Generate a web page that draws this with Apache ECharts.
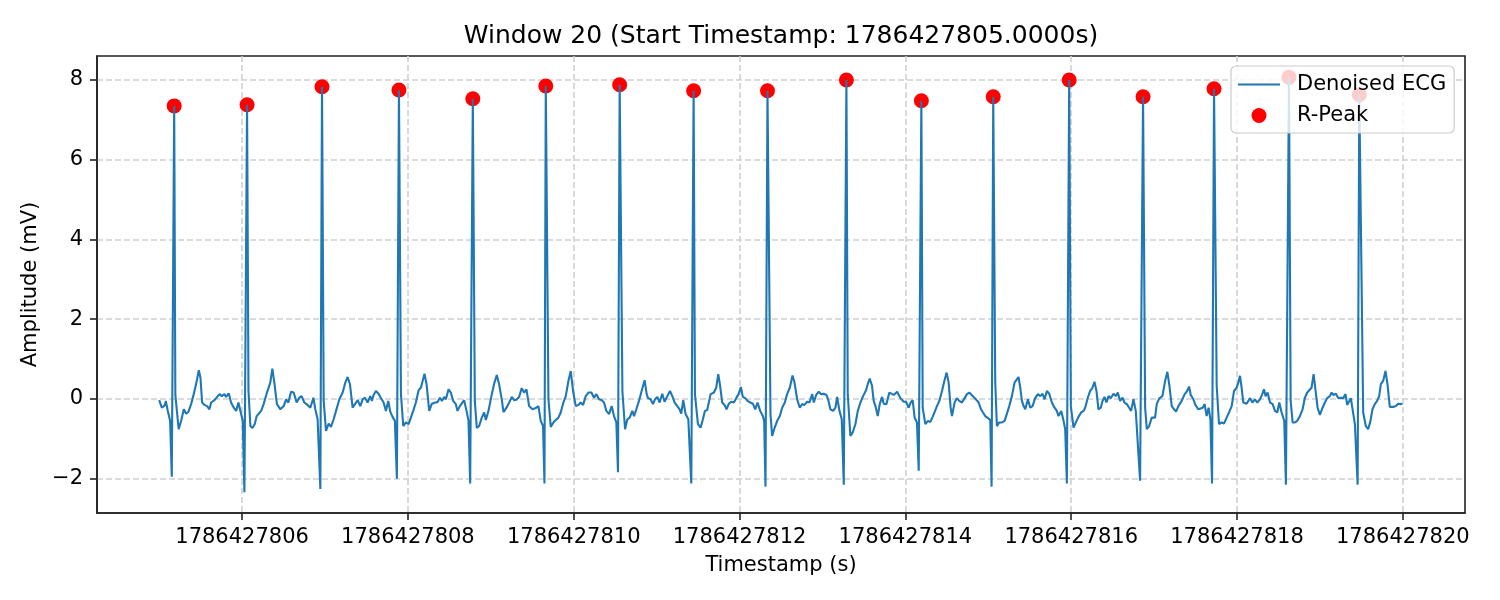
<!DOCTYPE html>
<html>
<head>
<meta charset="utf-8">
<script src="https://cdn.jsdelivr.net/npm/echarts@6/dist/echarts.min.js"></script>
<style>
html,body{margin:0;padding:0;background:#fff;}
#chart{width:1500px;height:600px;}
</style>
</head>
<body>
<div id="chart"></div>
<script>
// Start of the window (absolute timestamp, seconds)
const startTimestamp = 1786427805;
const chartTitle = 'Window 20 (Start Timestamp: 1786427805.0000s)';

// Denoised ECG samples: [seconds after start, amplitude mV]
const ecgSamples = [
[0.000,-0.03],[0.032,-0.22],[0.064,-0.17],[0.080,-0.05],[0.104,-0.30],[0.132,-0.55],[0.152,-1.95],[0.181,7.35],[0.195,0.10],[0.235,-0.76],
[0.265,-0.55],[0.297,-0.26],[0.325,-0.37],[0.353,-0.32],[0.385,-0.13],[0.417,0.12],[0.453,0.45],[0.478,0.72],[0.498,0.53],[0.518,-0.09],
[0.546,-0.15],[0.578,-0.18],[0.606,-0.26],[0.627,-0.09],[0.667,-0.03],[0.699,0.05],[0.727,0.12],[0.755,0.07],[0.787,0.12],[0.807,0.05],
[0.839,0.14],[0.867,-0.09],[0.900,-0.22],[0.928,-0.30],[0.956,-0.09],[0.980,-0.30],[1.008,-0.55],[1.028,-2.34],[1.060,7.38],[1.077,0.20],
[1.100,-0.68],[1.125,-0.73],[1.153,-0.63],[1.176,-0.43],[1.200,-0.38],[1.230,-0.30],[1.260,-0.13],[1.300,0.16],[1.340,0.41],[1.365,0.76],
[1.389,0.41],[1.420,-0.13],[1.462,-0.26],[1.502,-0.18],[1.530,-0.01],[1.558,-0.09],[1.590,0.18],[1.622,0.16],[1.658,-0.09],[1.690,0.03],
[1.718,0.07],[1.750,-0.09],[1.790,-0.15],[1.823,-0.22],[1.860,0.03],[1.883,-0.26],[1.911,-0.51],[1.944,-2.26],[1.964,7.83],[1.984,-0.05],
[2.012,-0.80],[2.044,-0.62],[2.072,-0.70],[2.104,-0.51],[2.133,-0.30],[2.173,-0.01],[2.213,0.16],[2.245,0.41],[2.273,0.55],[2.301,0.37],
[2.333,-0.22],[2.361,-0.13],[2.394,-0.03],[2.426,-0.18],[2.454,-0.01],[2.482,0.03],[2.514,-0.09],[2.546,0.07],[2.566,-0.05],[2.586,0.10],
[2.614,0.20],[2.646,0.13],[2.675,0.02],[2.707,-0.09],[2.735,-0.30],[2.763,-0.05],[2.787,-0.32],[2.815,-0.45],[2.843,-0.55],[2.867,-2.00],
[2.892,7.75],[2.916,0.12],[2.944,-0.68],[2.976,-0.59],[3.008,-0.63],[3.036,-0.47],[3.064,-0.30],[3.096,-0.09],[3.129,0.22],[3.157,0.28],
[3.177,0.30],[3.200,0.63],[3.225,0.37],[3.257,-0.30],[3.289,-0.12],[3.330,-0.09],[3.357,-0.08],[3.386,0.03],[3.410,-0.05],[3.438,0.05],
[3.458,-0.01],[3.490,0.24],[3.518,0.16],[3.546,-0.05],[3.578,-0.13],[3.598,-0.30],[3.627,-0.18],[3.650,-0.22],[3.678,-0.03],[3.707,-0.30],
[3.731,-0.55],[3.751,-2.12],[3.783,7.53],[3.807,-0.05],[3.831,-0.73],[3.859,-0.68],[3.891,-0.47],[3.920,-0.34],[3.940,-0.53],[3.972,-0.30],
[4.012,0.12],[4.044,0.41],[4.072,0.60],[4.100,0.37],[4.132,-0.01],[4.153,-0.33],[4.189,-0.22],[4.221,-0.09],[4.253,0.05],[4.281,-0.03],
[4.309,-0.02],[4.341,0.05],[4.373,0.27],[4.402,0.16],[4.430,0.24],[4.462,-0.18],[4.502,-0.26],[4.542,-0.23],[4.574,-0.18],[4.602,-0.55],
[4.630,-0.68],[4.647,-2.12],[4.663,7.85],[4.695,-0.01],[4.723,-0.70],[4.755,-0.59],[4.783,-0.53],[4.815,-0.47],[4.843,-0.34],[4.875,-0.09],
[4.904,0.07],[4.936,0.45],[4.964,0.70],[4.992,0.20],[5.024,-0.18],[5.056,-0.15],[5.084,-0.09],[5.113,-0.15],[5.145,0.07],[5.177,0.16],
[5.213,0.16],[5.245,0.03],[5.273,0.12],[5.305,-0.01],[5.337,-0.03],[5.365,-0.09],[5.394,-0.30],[5.426,-0.38],[5.458,-0.18],[5.486,-0.43],
[5.514,-0.59],[5.534,-1.84],[5.554,7.88],[5.587,0.20],[5.619,-0.76],[5.647,-0.51],[5.675,-0.47],[5.707,-0.30],[5.727,-0.43],[5.755,-0.26],
[5.787,-0.05],[5.819,0.20],[5.855,0.47],[5.880,0.12],[5.896,0.02],[5.928,-0.01],[5.956,-0.13],[5.980,-0.01],[6.008,0.05],[6.036,-0.09],
[6.068,0.13],[6.096,-0.07],[6.129,0.07],[6.161,0.20],[6.189,0.07],[6.217,-0.09],[6.249,-0.18],[6.277,-0.26],[6.297,-0.37],[6.321,-0.03],
[6.349,-0.38],[6.382,-0.51],[6.418,-2.12],[6.446,7.73],[6.462,0.12],[6.498,-0.63],[6.530,-0.72],[6.558,-0.51],[6.582,-0.30],[6.610,-0.28],
[6.630,-0.30],[6.651,0.12],[6.691,0.16],[6.719,0.28],[6.743,0.62],[6.763,0.37],[6.791,-0.09],[6.819,-0.15],[6.843,-0.26],[6.871,-0.12],
[6.899,-0.07],[6.931,-0.09],[6.960,0.02],[6.988,0.12],[7.016,0.30],[7.040,0.05],[7.068,0.02],[7.096,-0.05],[7.129,-0.09],[7.161,-0.12],
[7.189,-0.26],[7.217,-0.09],[7.249,-0.30],[7.281,-0.43],[7.297,-0.55],[7.313,-2.20],[7.337,7.73],[7.373,-0.38],[7.393,-0.93],[7.422,-0.73],
[7.454,-0.55],[7.486,-0.43],[7.514,-0.22],[7.546,-0.09],[7.574,0.12],[7.606,0.28],[7.639,0.59],[7.663,0.41],[7.695,-0.01],[7.727,-0.22],
[7.755,-0.13],[7.783,-0.15],[7.815,-0.07],[7.843,-0.09],[7.876,0.12],[7.896,-0.09],[7.924,0.10],[7.956,0.18],[7.984,0.12],[8.016,0.13],
[8.048,0.10],[8.068,-0.01],[8.096,-0.26],[8.129,-0.30],[8.157,-0.22],[8.177,0.05],[8.205,-0.30],[8.233,-0.51],[8.257,-2.15],[8.289,8.00],
[8.305,0.12],[8.337,-0.93],[8.365,-0.84],[8.398,-0.63],[8.426,-0.30],[8.458,-0.09],[8.490,0.07],[8.526,0.22],[8.546,0.37],[8.570,0.51],
[8.598,0.33],[8.618,-0.05],[8.639,-0.18],[8.667,-0.43],[8.691,-0.13],[8.719,0.05],[8.739,-0.12],[8.771,-0.13],[8.807,0.16],[8.831,0.20],
[8.860,0.10],[8.900,0.18],[8.940,0.02],[8.980,-0.07],[9.008,-0.07],[9.040,-0.22],[9.064,-0.09],[9.088,-0.03],[9.112,-0.47],[9.140,-0.59],
[9.161,-1.80],[9.193,7.48],[9.209,-0.22],[9.241,-0.63],[9.273,-0.55],[9.300,-0.58],[9.329,-0.45],[9.353,-0.43],[9.381,-0.18],[9.410,-0.05],
[9.442,0.20],[9.470,0.45],[9.498,0.66],[9.522,0.41],[9.546,-0.22],[9.562,-0.43],[9.594,-0.09],[9.622,0.02],[9.650,-0.05],[9.683,-0.09],
[9.715,0.02],[9.743,0.12],[9.771,0.16],[9.795,0.18],[9.823,0.05],[9.851,-0.01],[9.884,-0.09],[9.912,-0.26],[9.936,-0.34],[9.964,-0.43],
[9.996,-0.48],[10.024,-0.53],[10.040,-2.20],[10.060,7.58],[10.084,0.41],[10.104,-0.68],[10.133,-0.59],[10.165,-0.59],[10.197,-0.55],[10.225,-0.37],
[10.253,-0.18],[10.285,0.07],[10.317,0.41],[10.345,0.49],[10.365,0.55],[10.386,0.28],[10.406,-0.05],[10.426,-0.18],[10.446,-0.26],[10.478,-0.01],
[10.506,-0.22],[10.534,-0.18],[10.566,0.02],[10.598,0.12],[10.627,0.07],[10.655,0.13],[10.679,-0.01],[10.707,0.20],[10.735,0.13],[10.767,-0.09],
[10.799,-0.22],[10.827,-0.30],[10.847,-0.43],[10.880,-0.30],[10.908,-0.55],[10.928,-0.76],[10.948,-2.12],[10.976,8.00],[10.996,-0.18],[11.028,-0.72],
[11.056,-0.59],[11.088,-0.45],[11.120,-0.34],[11.149,-0.30],[11.169,-0.22],[11.200,0.03],[11.229,0.20],[11.257,0.28],[11.281,0.43],[11.305,0.20],
[11.329,-0.26],[11.357,-0.22],[11.378,-0.05],[11.402,0.05],[11.426,-0.09],[11.450,0.07],[11.478,0.02],[11.510,0.13],[11.538,0.07],[11.562,0.16],
[11.590,-0.05],[11.619,0.03],[11.643,-0.09],[11.671,-0.13],[11.699,-0.22],[11.723,-0.30],[11.751,-0.01],[11.779,-0.30],[11.803,-0.32],[11.831,-2.05],
[11.867,7.58],[11.892,-0.22],[11.912,-0.76],[11.940,-0.68],[11.972,-0.47],[12.012,-0.47],[12.032,-0.13],[12.060,0.01],[12.100,0.07],[12.133,0.45],
[12.160,0.68],[12.185,0.33],[12.213,-0.18],[12.241,-0.26],[12.265,-0.32],[12.293,-0.18],[12.333,-0.05],[12.369,0.12],[12.393,0.18],[12.422,0.31],
[12.442,0.10],[12.474,-0.01],[12.498,-0.15],[12.534,-0.26],[12.586,-0.22],[12.610,-0.13],[12.634,-0.43],[12.658,-0.22],[12.679,-0.51],[12.699,-2.12],
[12.723,7.78],[12.755,0.33],[12.783,-0.63],[12.815,-0.59],[12.843,-0.62],[12.875,-0.47],[12.908,-0.32],[12.936,-0.18],[12.964,0.20],[12.996,0.28],
[13.016,0.41],[13.036,0.58],[13.056,0.28],[13.076,-0.09],[13.116,-0.12],[13.157,0.02],[13.185,-0.09],[13.217,-0.01],[13.245,-0.09],[13.277,-0.01],
[13.305,0.12],[13.325,0.24],[13.345,0.07],[13.369,0.16],[13.398,-0.09],[13.430,-0.13],[13.458,-0.30],[13.486,-0.34],[13.510,-0.09],[13.538,-0.34],
[13.570,-0.55],[13.590,-2.15],[13.627,8.07],[13.647,-0.05],[13.671,-0.59],[13.699,-0.59],[13.727,-0.55],[13.759,-0.43],[13.791,-0.26],[13.819,0.03],
[13.847,0.16],[13.871,0.20],[13.899,0.28],[13.924,0.62],[13.948,0.20],[13.972,-0.22],[14.000,-0.40],[14.032,-0.22],[14.060,-0.09],[14.088,0.02],
[14.120,0.07],[14.141,0.16],[14.161,0.10],[14.193,0.13],[14.221,0.02],[14.249,0.03],[14.281,0.02],[14.309,0.12],[14.329,-0.15],[14.353,-0.13],
[14.373,0.02],[14.394,-0.26],[14.422,-0.63],[14.442,-0.68],[14.455,-2.15],[14.475,7.63],[14.522,-0.34],[14.554,-0.68],[14.582,-0.76],[14.610,-0.55],
[14.634,-0.26],[14.662,-0.13],[14.690,-0.05],[14.715,0.07],[14.735,0.37],[14.763,0.45],[14.791,0.70],[14.815,0.37],[14.843,-0.20],[14.884,-0.20],
[14.916,-0.18],[14.944,-0.12],[14.972,-0.13],[14.996,-0.12]
];

// Detected R-peaks (seconds after start, amplitude mV)
const rPeakTimes = [0.181, 1.060, 1.964, 2.892, 3.783, 4.663, 5.554, 6.446, 7.337, 8.289, 9.193, 10.060, 10.976, 11.867, 12.723, 13.627, 14.475];
const rPeakAmps  = [7.35, 7.38, 7.83, 7.75, 7.53, 7.85, 7.88, 7.73, 7.73, 8.00, 7.48, 7.58, 8.00, 7.58, 7.78, 8.07, 7.63];

// Axis ticks
const xTickValues = [1786427806, 1786427808, 1786427810, 1786427812, 1786427814, 1786427816, 1786427818, 1786427820];
const yTickValues = [-2, 0, 2, 4, 6, 8];
const xRange = [1786427804.25, 1786427820.75];
const yRange = [-2.861, 8.601];

const ecgData = ecgSamples.map(p => [startTimestamp + p[0], p[1]]);
const peakData = rPeakTimes.map((t, i) => [startTimestamp + t, rPeakAmps[i]]);

const FONT = 'DejaVu Sans';
const gridLine = { show: true, lineStyle: { color: '#d0d0d0', width: 1.6, type: [6, 3] } };

const chart = echarts.init(document.getElementById('chart'), null, { renderer: 'canvas' });
chart.setOption({
  animation: false,
  backgroundColor: '#ffffff',
  textStyle: { fontFamily: FONT },
  title: {
    text: chartTitle,
    left: 776,
    textAlign: 'center',
    top: 19,
    textStyle: { fontFamily: FONT, fontSize: 25, fontWeight: 'normal', color: '#000' }
  },
  grid: {
    left: 97, right: 35, top: 56, bottom: 87,
    show: true, borderColor: '#222', borderWidth: 1.6, backgroundColor: 'transparent',
    containLabel: false, outerBoundsMode: 'none'
  },
  legend: {
    orient: 'vertical',
    left: 1231, top: 66,
    padding: [8, 8, 7, 7],
    itemGap: 10,
    itemWidth: 42,
    itemHeight: 15,
    selectedMode: false,
    backgroundColor: 'rgba(255,255,255,0.8)',
    borderColor: '#cccccc',
    borderWidth: 1.2,
    borderRadius: 5,
    data: [
      { name: 'Denoised ECG', icon: 'path://M0,0 L42,0 L42,2.2 L0,2.2 Z' },
      { name: 'R-Peak', icon: 'circle' }
    ],
    textStyle: { fontFamily: FONT, fontSize: 21, color: '#000', padding: [0, 0, 0, 12] }
  },
  xAxis: {
    type: 'value',
    min: xRange[0], max: xRange[1],
    name: 'Timestamp (s)',
    nameLocation: 'middle',
    nameGap: 42,
    nameTextStyle: { fontFamily: FONT, fontSize: 21, color: '#000' },
    axisLine: { show: true, onZero: false, lineStyle: { color: '#222', width: 1.6 } },
    axisTick: { show: true, inside: false, length: 7, lineStyle: { color: '#222', width: 1.6 }, customValues: xTickValues },
    axisLabel: { show: true, margin: 14, fontFamily: FONT, fontSize: 21, color: '#000', customValues: xTickValues,
      formatter: v => String(Math.round(v)) },
    splitLine: gridLine
  },
  yAxis: {
    type: 'value',
    min: yRange[0], max: yRange[1],
    name: 'Amplitude (mV)',
    nameLocation: 'middle',
    nameGap: 53,
    nameRotate: 90,
    nameTextStyle: { fontFamily: FONT, fontSize: 21, color: '#000' },
    axisLine: { show: true, onZero: false, lineStyle: { color: '#222', width: 1.6 } },
    axisTick: { show: true, inside: false, length: 7, lineStyle: { color: '#222', width: 1.6 }, customValues: yTickValues },
    axisLabel: { show: true, margin: 14, fontFamily: FONT, fontSize: 21, color: '#000', customValues: yTickValues,
      formatter: v => (v < 0 ? '\u2212' + Math.abs(v) : String(v)) },
    splitLine: gridLine
  },
  series: [
    {
      name: 'Denoised ECG',
      type: 'line',
      data: ecgData,
      symbol: 'none',
      showSymbol: false,
      z: 3,
      lineStyle: { color: '#1f77b4', width: 2.1 },
      itemStyle: { color: '#1f77b4' },
      emphasis: { disabled: true }
    },
    {
      name: 'R-Peak',
      type: 'scatter',
      data: peakData,
      symbol: 'circle',
      symbolSize: 15,
      z: 2,
      itemStyle: { color: '#ff0000', opacity: 1 },
      emphasis: { disabled: true }
    }
  ]
});
</script>
</body>
</html>
